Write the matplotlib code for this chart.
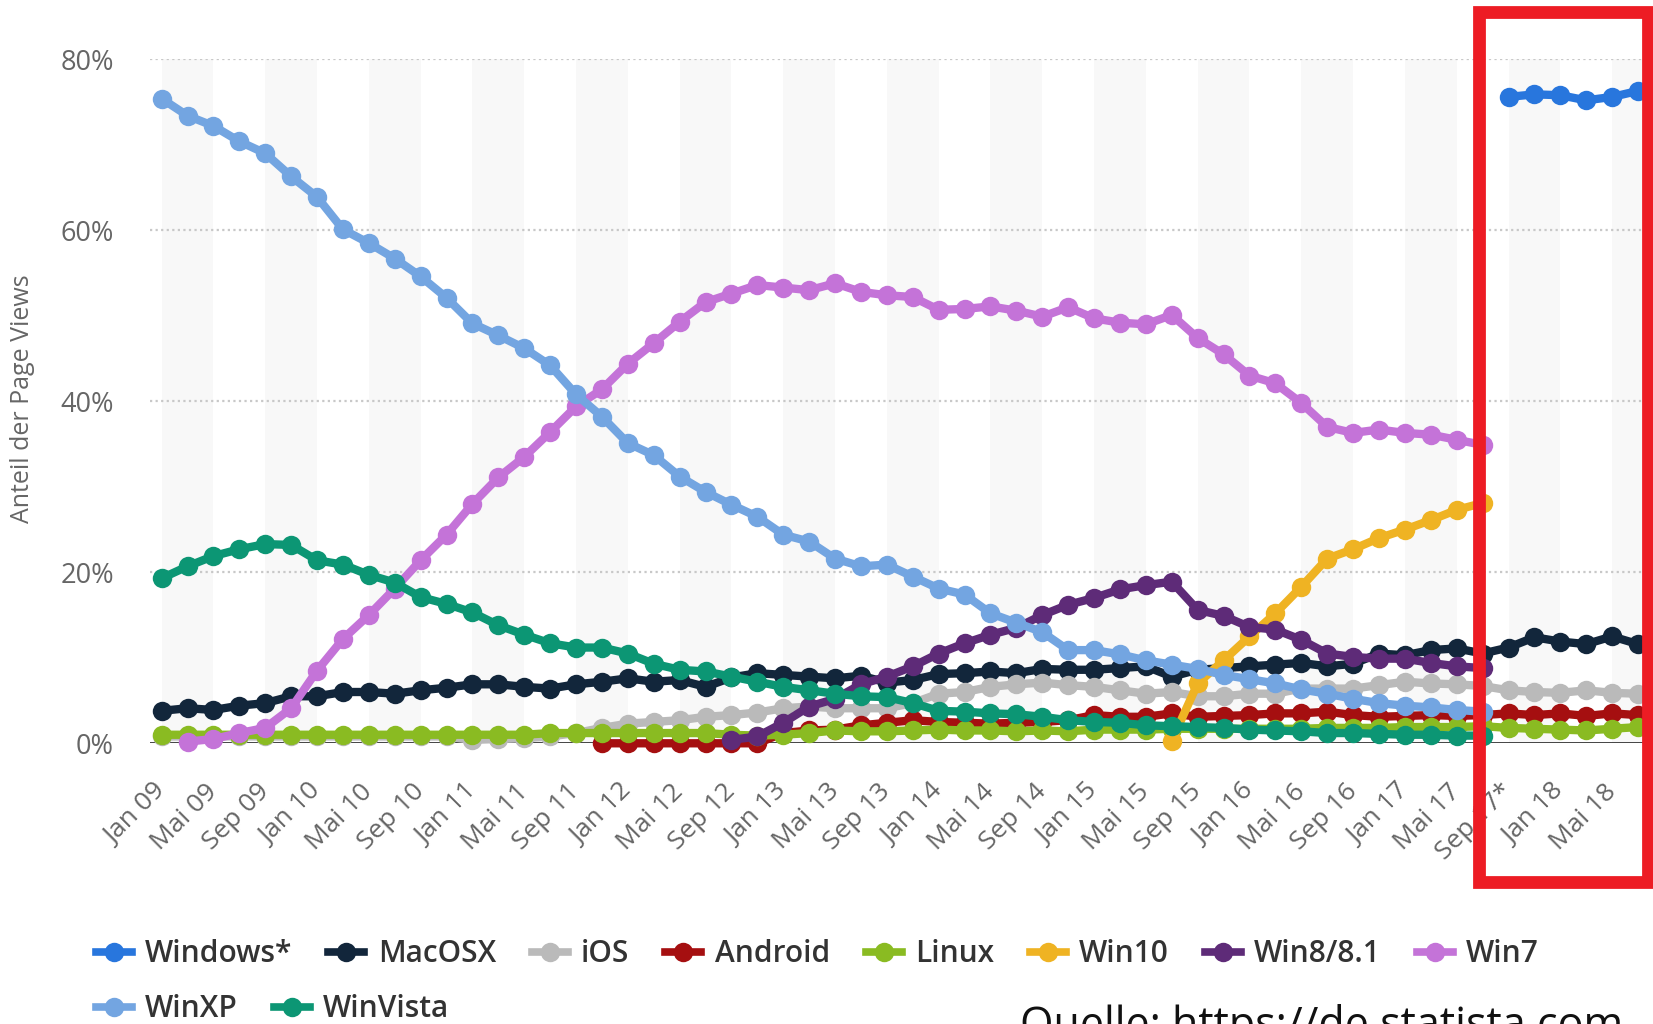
import numpy as np
import matplotlib
matplotlib.use("Agg")
import matplotlib.pyplot as plt
from matplotlib.lines import Line2D
from matplotlib.patches import Rectangle

nan = np.nan

# bimonthly points, Jan 09 ... Jul 18 (58 points), every second one labelled
tick_labels = ["Jan 09", "Mai 09", "Sep 09", "Jan 10", "Mai 10", "Sep 10",
               "Jan 11", "Mai 11", "Sep 11", "Jan 12", "Mai 12", "Sep 12",
               "Jan 13", "Mai 13", "Sep 13", "Jan 14", "Mai 14", "Sep 14",
               "Jan 15", "Mai 15", "Sep 15", "Jan 16", "Mai 16", "Sep 16",
               "Jan 17", "Mai 17", "Sep 17*", "Jan 18", "Mai 18"]

windows = [nan] * 52 + [75.6, 75.9, 75.8, 75.2, 75.6, 76.3]

macosx = [3.8, 4.1, 3.9, 4.4, 4.7, 5.5, 5.5, 6.0, 6.0, 5.8, 6.2, 6.5, 6.9, 6.9, 6.6, 6.4,
          6.9, 7.2, 7.6, 7.2, 7.4, 6.6, 7.7, 8.2, 8.0, 7.8, 7.6, 7.9, 7.1, 7.4, 8.1, 8.2,
          8.4, 8.2, 8.7, 8.6, 8.6, 8.8, 9.0, 7.8, 8.6, 8.8, 9.0, 9.2, 9.4, 9.0, 9.3, 10.5,
          10.3, 10.9, 11.1, 10.5, 11.2, 12.4, 11.9, 11.6, 12.5, 11.6]

ios = [0.8, 0.8, 0.8, 0.8, 0.8, 0.8, 0.8, 0.8, 0.8, 0.8, 0.8, 0.8, 0.4, 0.5, 0.6, 0.8,
       1.2, 1.8, 2.3, 2.5, 2.7, 3.1, 3.3, 3.6, 4.1, 4.3, 4.1, 4.1, 4.1, 4.7, 5.8, 6.0,
       6.6, 6.9, 7.1, 6.8, 6.6, 6.2, 5.8, 6.0, 5.5, 5.5, 5.8, 5.8, 6.4, 6.4, 6.4, 6.8,
       7.2, 7.0, 6.9, 6.7, 6.2, 6.0, 5.9, 6.2, 5.9, 5.8]

android = [nan] * 17 + [0.0, 0.0, 0.0, 0.0, 0.0, 0.0, 0.0, 1.2, 1.5, 1.6, 2.1,
                        2.4, 2.7, 2.5, 2.4, 2.3, 2.4, 2.5, 2.7, 3.3, 3.1, 3.1, 3.5,
                        3.1, 3.2, 3.3, 3.5, 3.5, 3.7, 3.3, 3.1, 3.2, 3.3, 3.2, 3.3,
                        3.5, 3.3, 3.5, 3.2, 3.5, 3.3]

linux = [1.0, 1.0, 1.0, 1.0, 1.0, 1.0, 1.0, 1.0, 1.0, 1.0, 1.0, 1.0, 1.0, 1.0, 1.0, 1.2,
         1.2, 1.2, 1.2, 1.2, 1.2, 1.2, 1.0, 0.9, 1.0, 1.2, 1.5, 1.4, 1.4, 1.5, 1.6, 1.5,
         1.5, 1.4, 1.5, 1.4, 1.6, 1.6, 1.6, 1.7, 1.7, 1.7, 1.7, 1.7, 1.7, 1.8, 1.8, 1.8,
         1.9, 1.9, 1.9, 2.0, 1.8, 1.7, 1.6, 1.5, 1.7, 1.9]

win10 = [nan] * 39 + [0.3, 7.0, 9.7, 12.5, 15.2, 18.3, 21.6, 22.7, 24.0, 25.0, 26.1,
                      27.3, 28.1] + [nan] * 6

win8 = [nan] * 22 + [0.4, 0.8, 2.4, 4.3, 5.2, 6.9, 7.8, 9.0, 10.5, 11.7, 12.7, 13.5,
                     15.0, 16.2, 17.0, 18.0, 18.5, 18.9, 15.6, 14.9, 13.6, 13.3, 12.1,
                     10.5, 10.1, 9.9, 9.9, 9.4, 9.0, 8.8] + [nan] * 6

win7 = [nan, 0.2, 0.5, 1.2, 1.8, 4.1, 8.5, 12.2, 15.0, 18.1, 21.4, 24.4, 28.0, 31.1,
        33.5, 36.4, 39.4, 41.4, 44.4, 46.8, 49.3, 51.6, 52.6, 53.6, 53.3, 53.0, 53.8,
        52.8, 52.4, 52.2, 50.7, 50.8, 51.1, 50.6, 49.9, 51.0, 49.7, 49.2, 49.0, 50.1,
        47.4, 45.5, 43.0, 42.1, 39.8, 37.0, 36.3, 36.7, 36.3, 36.1, 35.5, 34.9] + [nan] * 6

winxp = [75.4, 73.4, 72.2, 70.4, 69.0, 66.3, 63.9, 60.1, 58.5, 56.7, 54.6, 52.1, 49.1,
         47.7, 46.2, 44.2, 40.8, 38.2, 35.1, 33.7, 31.2, 29.4, 27.9, 26.5, 24.4, 23.6,
         21.6, 20.7, 20.9, 19.5, 18.1, 17.4, 15.2, 14.1, 13.0, 10.9, 10.9, 10.4, 9.7,
         9.2, 8.7, 8.0, 7.5, 7.0, 6.3, 5.8, 5.2, 4.7, 4.4, 4.2, 3.9, 3.7] + [nan] * 6

winvista = [19.3, 20.7, 21.9, 22.7, 23.3, 23.2, 21.4, 20.9, 19.7, 18.8, 17.1, 16.3, 15.3,
            13.8, 12.7, 11.7, 11.2, 11.2, 10.5, 9.3, 8.6, 8.4, 7.8, 7.2, 6.6, 6.2, 5.8,
            5.5, 5.4, 4.7, 3.8, 3.7, 3.5, 3.4, 3.1, 2.7, 2.5, 2.4, 2.1, 2.0, 1.9, 1.8,
            1.6, 1.5, 1.4, 1.2, 1.2, 1.1, 1.0, 1.0, 0.9, 0.9] + [nan] * 6

series = [("Windows*", windows, "#2876dd"),
          ("MacOSX", macosx, "#12263b"),
          ("iOS", ios, "#bababa"),
          ("Android", android, "#a50f10"),
          ("Linux", linux, "#8abb22"),
          ("Win10", win10, "#efb323"),
          ("Win8/8.1", win8, "#5e2b78"),
          ("Win7", win7, "#c473d8"),
          ("WinXP", winxp, "#73a5e1"),
          ("WinVista", winvista, "#0c9674")]

W, H = 1653, 1024
fig = plt.figure(figsize=(W / 100, H / 100), dpi=100)
ax = fig.add_axes([150 / W, 1 - 743.3 / H, (1645 - 150) / W, (743.3 - 59.3) / H])

x = np.arange(len(macosx))
for k in range(0, len(x), 4):
    ax.axvspan(k, k + 2, color="#f8f8f8", lw=0, zorder=0)

for z, (name, vals, col) in enumerate(series):
    ax.plot(x, vals, color=col, lw=6, marker="o", ms=14, mew=0,
            solid_capstyle="round", solid_joinstyle="round", clip_on=False, zorder=3 + z)

ax.set_xlim(-0.45, 57.27)
ax.set_ylim(0, 80)
ax.set_yticks([0, 20, 40, 60, 80])
ax.set_yticklabels(["0%", "20%", "40%", "60%", "80%"])
ax.set_xticks(np.arange(0, 57, 2))
ax.set_xticklabels(tick_labels, rotation=45, ha="right", va="center",
                   rotation_mode="anchor")
for y in [20, 40, 60, 80]:
    ax.axhline(y, color="#c8c8c8", lw=1.6, ls=(0, (1, 1.5)), zorder=1)
ax.axhline(0, color="#333333", lw=2, zorder=2)
for s in ax.spines.values():
    s.set_visible(False)
ax.tick_params(axis="both", length=0, colors="#666666")
ax.tick_params(axis="x", pad=32, labelsize=19)
ax.tick_params(axis="y", pad=26, labelsize=19.5)
for lab in ax.get_xticklabels() + ax.get_yticklabels():
    lab.set_fontfamily("Open Sans")

fig.text(23 / W, 1 - 399 / H, "Anteil der Page Views", rotation=90, ha="center",
         va="center", fontsize=18, color="#666666", family="Open Sans")

handles = [Line2D([], [], color=c, lw=5.5, marker="o", ms=14, mew=0) for _, _, c in series]
names = [n for n, _, _ in series]
leg_kw = dict(frameon=False, handlelength=1.2, handletextpad=0.45, columnspacing=1.2,
              borderpad=0, borderaxespad=0,
              prop={"family": "Open Sans", "weight": "semibold", "size": 21.5})
leg1 = fig.legend(handles[:8], names[:8], loc="center left", ncol=8,
                  bbox_to_anchor=(96 / W, 1 - 954 / H), **leg_kw)
for t in leg1.get_texts():
    t.set_color("#333333")
leg2 = fig.legend(handles[8:], names[8:], loc="center left", ncol=2,
                  bbox_to_anchor=(96 / W, 1 - 1009 / H), **leg_kw)
for t in leg2.get_texts():
    t.set_color("#333333")

fig.text(1020 / W, 1 - 1004 / H, "Quelle: https://de.statista.com", ha="left",
         va="top", fontsize=31, color="#111111", family="Open Sans")

# red highlight frame
fig.add_artist(Rectangle((1478.5 / W, 1 - 882 / H), (1648 - 1478.5) / W, (882 - 12) / H,
                         transform=fig.transFigure, fill=False, ec="#ed1c24", lw=9.2,
                         zorder=20))

fig.savefig("out.png", dpi=100, facecolor="white")
